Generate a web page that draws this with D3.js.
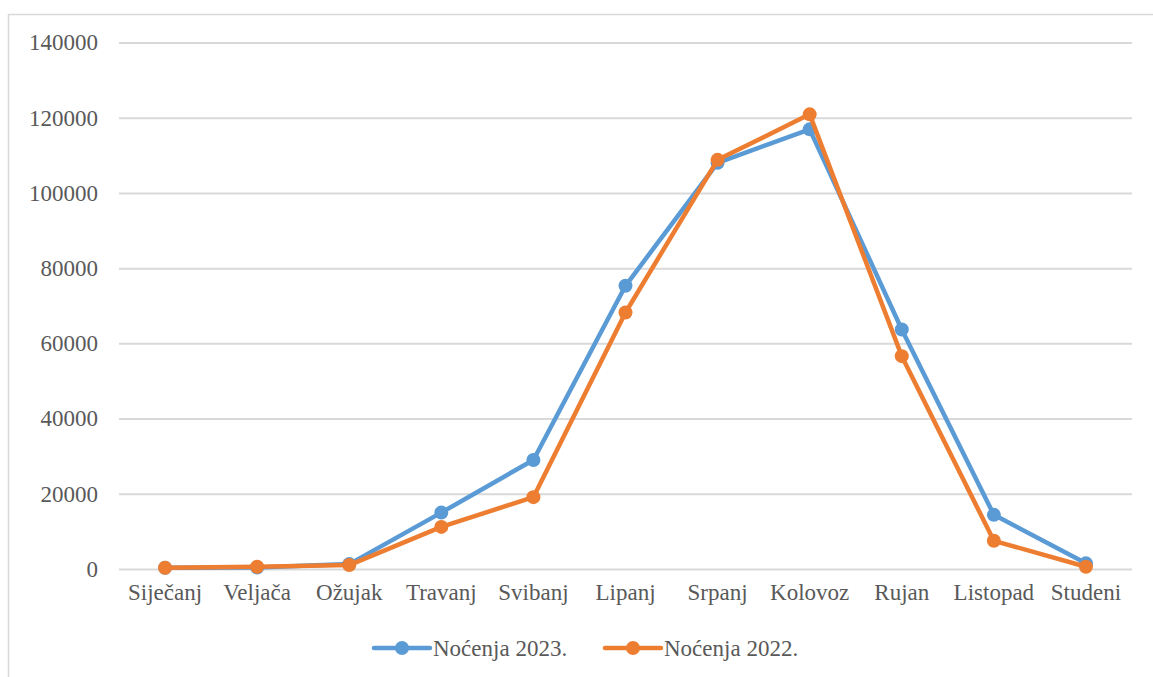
<!DOCTYPE html>
<html>
<head>
<meta charset="utf-8">
<script src="https://cdn.jsdelivr.net/npm/d3@7"></script>
<style>
  body { margin: 0; background: #fff; }
  svg { display: block; }
  svg text { font-family: "Liberation Serif", "Times New Roman", Times, "DejaVu Serif", serif !important; fill: #595959; }
</style>
</head>
<body>
<div id="chart_div"></div>
<script>
var months = ['Siječanj', 'Veljača', 'Ožujak', 'Travanj', 'Svibanj', 'Lipanj', 'Srpanj', 'Kolovoz', 'Rujan', 'Listopad', 'Studeni']
var nocenja2023 = [300, 400, 1300, 15000, 29000, 75300, 108000, 116900, 63700, 14400, 1500]
var nocenja2022 = [350, 600, 1050, 11200, 19100, 68200, 108800, 120900, 56600, 7500, 600]
var yTicks = [0, 20000, 40000, 60000, 80000, 100000, 120000, 140000]
var seriesNames = ['Noćenja 2023.', 'Noćenja 2022.']

var W = 1153, H = 677
var margin = {top: 42.5, left: 119, right: 21, bottom: 108}
var width = W - margin.left - margin.right,
    height = H - margin.top - margin.bottom

var svg = d3.select('#chart_div').append('svg')
  .attr('width', W)
  .attr('height', H)

// outer chart frame (runs off the right/bottom edge)
svg.append('rect')
  .attr('x', 8.5).attr('y', 14.5)
  .attr('width', W + 20).attr('height', H + 20)
  .attr('fill', 'none')
  .attr('stroke', '#d9d9d9')
  .attr('stroke-width', 1.5)

var g = svg.append('g')
  .attr('transform', 'translate(' + margin.left + ',' + margin.top + ')')

var xScale = d3.scaleBand().domain(months).range([0, width])
var yScale = d3.scaleLinear().domain([0, 140000]).range([height, 0])

// grid + y labels
g.append('g')
  .attr('class', 'yaxis')
  .call(d3.axisLeft(yScale).tickValues(yTicks).tickSize(-width).tickPadding(21).tickFormat(d3.format('d')))

g.selectAll('.yaxis .tick line')
  .style('stroke', '#d9d9d9')
  .style('stroke-width', '2px')

g.selectAll('.yaxis text')
  .style('font-size', '23px')
  .style('fill', '#595959')

// x labels
g.append('g')
  .attr('class', 'xaxis')
  .attr('transform', 'translate(0,' + height + ')')
  .call(d3.axisBottom(xScale).tickSize(0).tickPadding(15))

g.selectAll('.xaxis text')
  .style('font-size', '23px')
  .style('fill', '#595959')

g.selectAll('path.domain').style('stroke', 'none')

var line_colors = ['#5b9bd5', '#ed7d31']
var allSeries = [nocenja2023, nocenja2022]

allSeries.forEach(function(vals, i){
  var pts = months.map(function(m, j){ return {m: m, v: vals[j]} })

  var valueline = d3.line()
    .x(function(d) { return xScale(d.m) + xScale.bandwidth()/2 })
    .y(function(d) { return yScale(d.v) })

  g.append('path')
    .datum(pts)
    .attr('d', valueline)
    .attr('fill', 'none')
    .style('stroke', line_colors[i])
    .style('stroke-width', '4.5px')
    .style('stroke-linejoin', 'round')

  g.selectAll('circle.point' + i)
    .data(pts)
    .enter().append('circle')
    .attr('class', 'point' + i)
    .attr('cx', function(d){ return xScale(d.m) + xScale.bandwidth()/2 })
    .attr('cy', function(d){ return yScale(d.v) })
    .attr('r', 7)
    .style('fill', line_colors[i])
})

// legend
var legendX = [374, 605]
seriesNames.forEach(function(name, i){
  var lg = svg.append('g').attr('transform', 'translate(' + legendX[i] + ',648)')
  lg.append('line')
    .attr('x1', 0).attr('x2', 56)
    .attr('y1', 0).attr('y2', 0)
    .style('stroke', line_colors[i])
    .style('stroke-width', '4.5px')
    .style('stroke-linecap', 'round')
  lg.append('circle')
    .attr('cx', 28).attr('cy', 0).attr('r', 7)
    .style('fill', line_colors[i])
  lg.append('text')
    .attr('x', 59).attr('y', 0)
    .attr('dy', '0.35em')
    .style('font-size', '23px')
    .text(name)
})
</script>
</body>
</html>
